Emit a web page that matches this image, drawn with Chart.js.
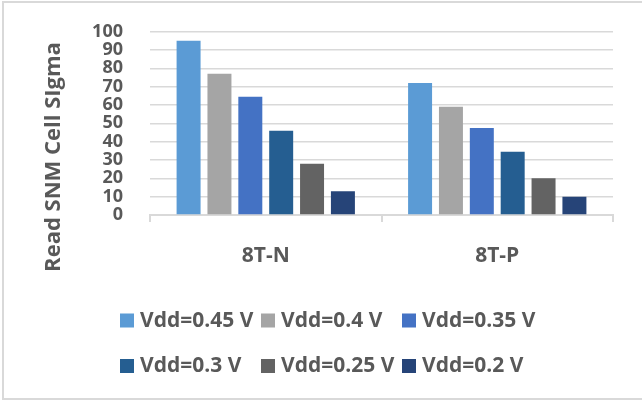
<!DOCTYPE html>
<html>
<head>
<meta charset="utf-8">
<title>Read SNM Cell Sigma</title>
<script src="https://cdn.jsdelivr.net/npm/chart.js@4/dist/chart.umd.min.js"></script>
<style>
  html, body { margin: 0; padding: 0; background: #ffffff; }
  canvas { display: block; }
</style>
</head>
<body>
<canvas id="chart" width="642" height="400"></canvas>
<script>
// Cell types on the category axis
const categories = ["8T-N", "8T-P"];

// Supply voltages (one series each)
const seriesLabels = ["Vdd=0.45 V", "Vdd=0.4 V", "Vdd=0.35 V", "Vdd=0.3 V", "Vdd=0.25 V", "Vdd=0.2 V"];

// Read SNM cell sigma per voltage, ordered as [8T-N, 8T-P]
const vdd045 = [95, 72];
const vdd040 = [77, 59];
const vdd035 = [64.5, 47.5];
const vdd030 = [46, 34.5];
const vdd025 = [28, 20];
const vdd020 = [13, 10];

// Y axis ticks
const yTicks = [0, 10, 20, 30, 40, 50, 60, 70, 80, 90, 100];

const yTitle = "Read SNM Cell SIgma";

const seriesValues = [vdd045, vdd040, vdd035, vdd030, vdd025, vdd020];
const seriesColors = ["#5B9BD5", "#A5A5A5", "#4472C4", "#255E91", "#636363", "#264478"];

const textColor = "#595959";
const gridColor = "#d9d9d9";
const fontFamily = "'Open Sans', 'DejaVu Sans', sans-serif";

Chart.defaults.font.family = fontFamily;
Chart.defaults.color = textColor;

// Outer frame, rotated axis title and a fixed three-column legend
const decorations = {
  id: "decorations",
  beforeDraw(chart) {
    const ctx = chart.ctx;
    ctx.save();
    ctx.fillStyle = "#ffffff";
    ctx.fillRect(0, 0, chart.width, chart.height);
    ctx.strokeStyle = gridColor;
    ctx.lineWidth = 2;
    ctx.strokeRect(3, 2, chart.width + 4, chart.height - 3);
    ctx.restore();
  },
  afterDraw(chart) {
    const ctx = chart.ctx;
    ctx.save();
    // y-axis title
    ctx.translate(60, 157);
    ctx.rotate(-Math.PI / 2);
    ctx.font = "bold 22px " + fontFamily;
    ctx.fillStyle = textColor;
    ctx.textAlign = "center";
    ctx.textBaseline = "alphabetic";
    ctx.fillText(yTitle, 0, 0);
    ctx.restore();

    // legend, 3 columns x 2 rows
    const colX = [120, 261, 402];
    const rowY = [320.5, 366];
    ctx.save();
    ctx.font = "bold 21px " + fontFamily;
    ctx.textBaseline = "middle";
    ctx.textAlign = "left";
    chart.data.datasets.forEach((ds, i) => {
      const x = colX[i % 3];
      const y = rowY[Math.floor(i / 3)];
      ctx.fillStyle = ds.backgroundColor;
      ctx.fillRect(x, y - 7, 14, 14);
      ctx.fillStyle = textColor;
      ctx.fillText(ds.label, x + 20, y + 0.5);
    });
    ctx.restore();
  }
};

new Chart(document.getElementById("chart"), {
  type: "bar",
  data: {
    labels: categories,
    datasets: seriesLabels.map((label, i) => ({
      label: label,
      data: seriesValues[i],
      backgroundColor: seriesColors[i],
      borderWidth: 0,
      categoryPercentage: 0.8,
      barPercentage: 0.777
    }))
  },
  options: {
    responsive: false,
    animation: false,
    devicePixelRatio: 1,
    layout: { padding: { left: 0, top: 31.7, right: 29, bottom: 0 } },
    plugins: {
      legend: { display: false },
      tooltip: { enabled: false },
      title: { display: false }
    },
    scales: {
      x: {
        afterFit(scale) { scale.height = 185; },
        grid: {
          display: true,
          drawOnChartArea: false,
          drawTicks: true,
          tickLength: 7,
          offset: true,
          color: gridColor,
          lineWidth: 2
        },
        border: { display: true, color: gridColor, width: 2 },
        ticks: {
          font: { size: 21, weight: "bold" },
          color: textColor,
          padding: 21
        }
      },
      y: {
        afterFit(scale) { scale.width = 150; },
        min: yTicks[0],
        max: yTicks[yTicks.length - 1],
        afterBuildTicks(scale) { scale.ticks = yTicks.map(v => ({ value: v })); },
        grid: {
          color: gridColor,
          lineWidth: 1.5,
          drawTicks: true,
          tickLength: 27,
          tickColor: "rgba(0,0,0,0)"
        },
        border: { display: false },
        ticks: {
          autoSkip: false,
          font: { size: 18, weight: "bold" },
          color: textColor,
          padding: 0
        }
      }
    }
  },
  plugins: [decorations]
});
</script>
</body>
</html>
